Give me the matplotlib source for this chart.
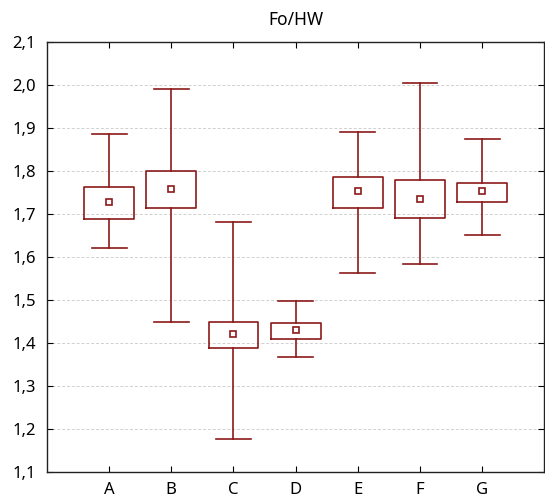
import matplotlib
matplotlib.use("Agg")
import matplotlib.pyplot as plt
from matplotlib.ticker import FuncFormatter, MultipleLocator

plt.rcParams['font.family'] = ['Noto Sans', 'DejaVu Sans']

groups = ['A', 'B', 'C', 'D', 'E', 'F', 'G']
whis_lo = [1.621, 1.450, 1.177, 1.368, 1.562, 1.585, 1.651]
q1 = [1.689, 1.715, 1.389, 1.409, 1.714, 1.690, 1.727]
med = [1.727, 1.759, 1.422, 1.430, 1.754, 1.736, 1.754]
q3 = [1.764, 1.801, 1.449, 1.446, 1.785, 1.780, 1.773]
whis_hi = [1.887, 1.990, 1.682, 1.499, 1.890, 2.005, 1.875]

red = '#8b1a1a'

stats = []
for i in range(len(groups)):
    stats.append(dict(label=groups[i], whislo=whis_lo[i], q1=q1[i], med=med[i],
                      q3=q3[i], whishi=whis_hi[i], mean=med[i], fliers=[]))

fig = plt.figure(figsize=(5.45, 5.01), dpi=100)
ax = fig.add_axes([0.0862, 0.0573, 0.9125, 0.859])

ax.bxp(stats, positions=range(1, len(groups) + 1), widths=0.8,
       showmeans=True, showfliers=False, patch_artist=False,
       boxprops=dict(color=red, linewidth=1.2),
       whiskerprops=dict(color=red, linewidth=1.2),
       capprops=dict(color=red, linewidth=1.2),
       capwidths=0.56,
       medianprops=dict(linewidth=0),
       meanprops=dict(marker='s', markersize=4, markerfacecolor='white',
                      markeredgecolor=red, markeredgewidth=1.2))

ax.set_xlim(0, 8)
ax.set_ylim(1.1, 2.1)
ax.yaxis.set_major_locator(MultipleLocator(0.1))
ax.yaxis.set_major_formatter(FuncFormatter(lambda v, p: f'{v:.1f}'.replace('.', ',')))
ax.grid(axis='y', color='#d0d0d0', linestyle=(0, (3, 2)), linewidth=0.7)
ax.set_axisbelow(True)

ax.tick_params(direction='in', top=True, right=True, length=4, labelsize=12,
               colors='black')
ax.tick_params(axis='x', pad=7)
ax.tick_params(axis='y', pad=8)
for s in ax.spines.values():
    s.set_color('#222222')
    s.set_linewidth(1.0)

ax.set_title('Fo/HW', fontsize=12.5, pad=12)

fig.savefig('out.png', dpi=100)
